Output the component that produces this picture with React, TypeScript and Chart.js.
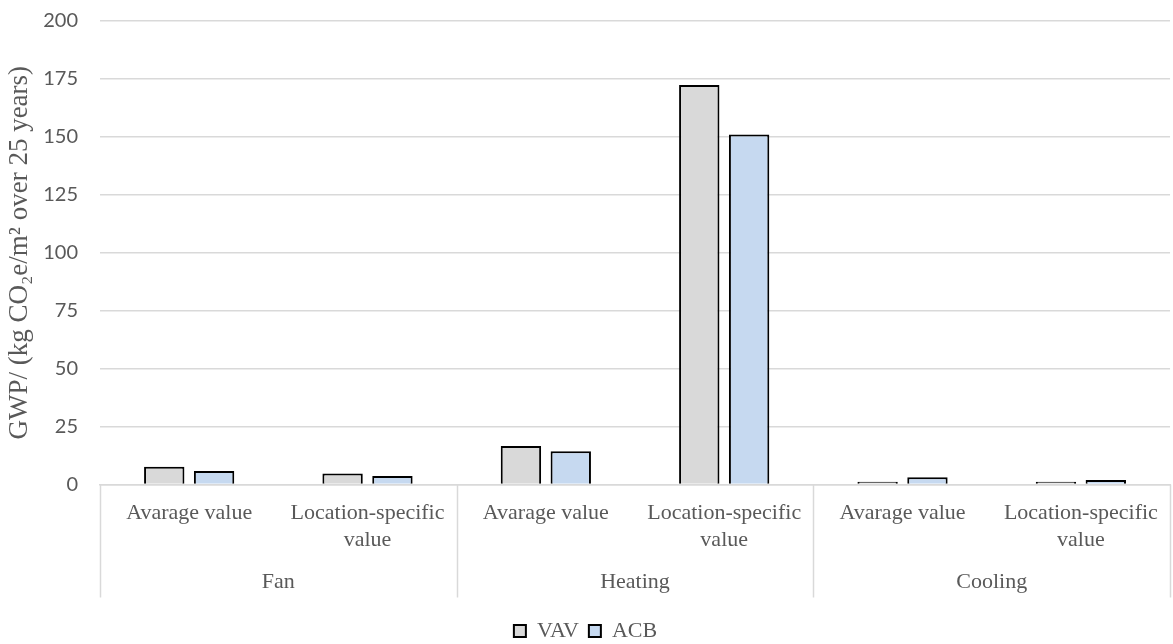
import React, { useEffect, useRef } from "react";
import { Chart, registerables } from "chart.js";

Chart.register(...registerables);

// Upper-level groups and the two sub-categories shown under each of them
const groups = ["Fan", "Heating", "Cooling"];
const subCategories: string[][] = [["Avarage value"], ["Location-specific", "value"]];

// Bar values, one per (group, sub-category) pair
const vavValues = [7.7, 4.8, 16.6, 172.4, 1.2, 1.2];
const acbValues = [5.8, 3.7, 14.4, 151, 3.1, 1.9];

const seriesNames = ["VAV", "ACB"];
const yTicks = { min: 0, max: 200, step: 25 };
const yTitle = "GWP/ (kg CO\u2082e/m\u00b2 over 25 years)";

const TEXT = "#595959";
const GRID = "#d9d9d9";
const SERIF = "'Liberation Serif', 'Times New Roman', serif";

const labels: string[][] = groups.flatMap(() => subCategories);

// Draws the group separators and the group names below the category labels
const groupAxisPlugin = {
  id: "groupAxis",
  afterDraw(chart: any) {
    const x = chart.scales.x;
    const { ctx } = chart;
    const perGroup = x.width / groups.length;
    const top = x.top;
    const bottom = top + 113;
    ctx.save();
    ctx.strokeStyle = GRID;
    ctx.lineWidth = 1.5;
    for (let g = 0; g <= groups.length; g++) {
      const px = Math.round(x.left + g * perGroup) + 0.5;
      ctx.beginPath();
      ctx.moveTo(px, top);
      ctx.lineTo(px, bottom);
      ctx.stroke();
    }
    ctx.fillStyle = TEXT;
    ctx.font = `22px ${SERIF}`;
    ctx.textAlign = "center";
    ctx.textBaseline = "middle";
    groups.forEach((name, g) => {
      ctx.fillText(name, x.left + (g + 0.5) * perGroup, top + 98);
    });
    ctx.restore();
  },
};

export default function App() {
  const canvasRef = useRef<HTMLCanvasElement | null>(null);

  useEffect(() => {
    if (!canvasRef.current) return;
    const chart = new Chart(canvasRef.current, {
      type: "bar",
      data: {
        labels,
        datasets: [
          {
            label: seriesNames[0],
            data: vavValues,
            backgroundColor: "#d9d9d9",
            borderColor: "#000000",
            borderWidth: 2,
          },
          {
            label: seriesNames[1],
            data: acbValues,
            backgroundColor: "#c6d9f0",
            borderColor: "#000000",
            borderWidth: 2,
          },
        ],
      },
      options: {
        responsive: false,
        animation: false,
        datasets: {
          bar: { categoryPercentage: 0.559, barPercentage: 0.81 },
        },
        layout: { padding: { top: 21, right: 2, left: 0, bottom: -8 } },
        plugins: {
          tooltip: { enabled: false },
          legend: {
            position: "bottom",
            labels: {
              boxWidth: 12,
              boxHeight: 12,
              padding: 10,
              color: TEXT,
              font: { family: SERIF, size: 22 },
            },
          },
        },
        scales: {
          x: {
            grid: { display: false, drawTicks: false },
            border: { display: true, color: GRID, width: 1.5 },
            ticks: {
              color: TEXT,
              font: { family: SERIF, size: 22, lineHeight: 1.227 },
              padding: 15,
              maxRotation: 0,
              minRotation: 0,
              autoSkip: false,
            },
            afterFit(scale: any) {
              scale.height = 125.5;
            },
          },
          y: {
            min: yTicks.min,
            max: yTicks.max,
            grid: { color: GRID, lineWidth: 1.5, drawTicks: false },
            border: { display: false },
            ticks: {
              stepSize: yTicks.step,
              color: TEXT,
              font: { family: "Lato, 'Open Sans', sans-serif", size: 20 },
              padding: 22,
            },
            title: {
              display: true,
              text: yTitle,
              color: TEXT,
              font: { family: SERIF, size: 27 },
              padding: { top: 4, bottom: 0 },
            },
            afterFit(scale: any) {
              scale.width = 100;
              scale.paddingTop = 0;
              scale.paddingBottom = 0;
            },
          },
        },
      },
      plugins: [groupAxisPlugin],
    });
    return () => chart.destroy();
  }, []);

  return (
    <div style={{ position: "fixed", left: 0, top: 0, width: 1173, height: 644, background: "#fff" }}>
      <canvas ref={canvasRef} width={1173} height={644} />
    </div>
  );
}
